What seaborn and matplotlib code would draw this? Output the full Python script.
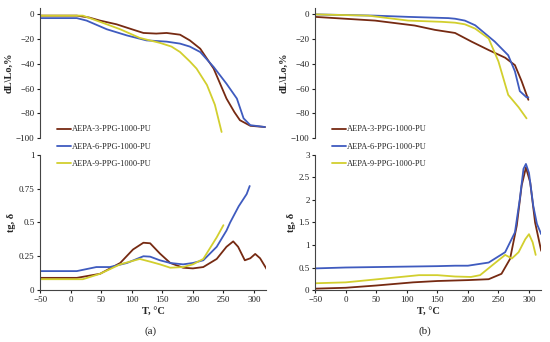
import pandas as pd
import matplotlib.pyplot as plt
import seaborn as sns

sns.set_style("white")
plt.rcParams['font.family'] = ['Liberation Serif', 'DejaVu Serif']

labels = ["AEPA-3-PPG-1000-PU", "AEPA-6-PPG-1000-PU", "AEPA-9-PPG-1000-PU"]
colors = ["#762a12", "#3f5bbf", "#d2cf2e"]

# (a) dilatometry dL/Lo, %
a_dl_T = [
    [-50, 10, 30, 48, 75, 100, 119, 140, 157, 179, 195, 212, 234, 255, 268, 277, 294, 318],
    [-50, 10, 26, 59, 92, 124, 157, 179, 195, 212, 234, 255, 272, 283, 294, 318],
    [-50, 20, 48, 81, 113, 146, 165, 179, 195, 206, 223, 236, 247],
]
a_dl_v = [
    [-1, -1, -2.5, -5, -8, -12, -15, -15.5, -15, -16.4, -21, -27.7, -43.8, -68, -79, -85.5, -90, -91],
    [-3, -3, -5, -12, -17, -21, -22, -23.6, -26, -30.4, -42.5, -56, -68, -84, -89.5, -91],
    [-1, -1, -6, -12, -19, -23, -26, -30.4, -38, -43.8, -57, -73, -95],
]

# (a) tg delta
a_tg_T = [
    [-50, 10, 48, 81, 102, 119, 130, 146, 163, 184, 200, 217, 239, 255, 266, 274, 285, 294, 302, 310, 321],
    [-50, 10, 42, 64, 92, 119, 130, 146, 163, 184, 200, 217, 239, 255, 261, 275, 288, 293],
    [-50, 20, 48, 81, 113, 130, 146, 163, 184, 200, 217, 239, 250],
]
a_tg_v = [
    [0.09, 0.09, 0.12, 0.20, 0.30, 0.35, 0.346, 0.27, 0.20, 0.165, 0.16, 0.17, 0.23, 0.32, 0.36, 0.32, 0.22, 0.235, 0.267, 0.235, 0.153],
    [0.14, 0.14, 0.17, 0.17, 0.20, 0.25, 0.247, 0.22, 0.20, 0.19, 0.20, 0.22, 0.32, 0.44, 0.50, 0.62, 0.71, 0.77],
    [0.08, 0.08, 0.12, 0.19, 0.23, 0.21, 0.19, 0.165, 0.17, 0.19, 0.23, 0.39, 0.48],
]

# (b) dilatometry dL/Lo, %
b_dl_T = [
    [-50, 48, 113, 146, 179, 206, 234, 261, 277, 288, 299],
    [-50, 48, 102, 168, 179, 195, 212, 244, 266, 277, 285, 296, 299],
    [-50, 37, 102, 157, 179, 195, 212, 234, 250, 266, 283, 296],
]
b_dl_v = [
    [-2, -5, -9, -12.5, -15, -22, -28.8, -35, -41, -54, -69],
    [0, -1, -2, -3, -3.5, -5, -8.8, -22, -33, -46, -62, -67, -67],
    [0, -1, -5, -6, -6.7, -8, -11.5, -19.5, -38, -65, -75, -84],
]

# (b) tg delta
b_tg_T = [
    [-50, 0, 50, 110, 150, 200, 234, 255, 269, 280, 288, 295, 302, 310, 320],
    [-50, 0, 100, 150, 179, 200, 234, 261, 277, 285, 291, 295, 300, 307, 313, 320],
    [-50, 0, 60, 120, 150, 179, 205, 220, 239, 261, 272, 283, 294, 300, 306, 311],
]
b_tg_v = [
    [0.03, 0.05, 0.10, 0.17, 0.20, 0.22, 0.24, 0.36, 0.69, 1.43, 2.32, 2.72, 2.39, 1.50, 0.87],
    [0.48, 0.50, 0.52, 0.53, 0.54, 0.54, 0.61, 0.84, 1.28, 2.02, 2.69, 2.80, 2.60, 1.87, 1.47, 1.24],
    [0.15, 0.17, 0.25, 0.33, 0.33, 0.30, 0.29, 0.33, 0.54, 0.78, 0.70, 0.84, 1.13, 1.24, 1.06, 0.78],
]

fs = 6.5
fig = plt.figure(figsize=(5.5, 3.42), dpi=100)

def draw(ax, Ts, vs):
    for T, v, c, lab in zip(Ts, vs, colors, labels):
        sns.lineplot(x=T, y=v, color=c, lw=1.3, sort=False, ax=ax, label=lab)
    ax.get_legend().remove()
    ax.set_xlim(-50, 320)
    ax.tick_params(labelsize=fs, length=2, pad=2, direction='out')
    for s in ['top', 'right']:
        ax.spines[s].set_visible(False)
    for s in ['left', 'bottom']:
        ax.spines[s].set_color('#444444')
        ax.spines[s].set_linewidth(0.8)
    ax.tick_params(left=True, bottom=True, colors='#222222')

panels = [
    (0.073, a_dl_T, a_dl_v, a_tg_T, a_tg_v, (0, 1), [0, 0.25, 0.5, 0.75, 1], ["0", "0.25", "0.5", "0.75", "1"], "(a)"),
    (0.573, b_dl_T, b_dl_v, b_tg_T, b_tg_v, (0, 3), [0, 0.5, 1, 1.5, 2, 2.5, 3], ["0", "0.5", "1", "1.5", "2", "2.5", "3"], "(b)"),
]

for x0, dT, dv, tT, tv, tlim, tticks, tlabels, tag in panels:
    top = fig.add_axes([x0, 0.596, 0.411, 0.380])
    draw(top, dT, dv)
    top.set_ylim(-100, 5)
    top.set_yticks([0, -20, -40, -60, -80, -100])
    top.spines['bottom'].set_visible(False)
    top.set_xticks([])
    top.set_xlabel("")
    top.set_ylabel("dL\\Lo,%", fontsize=7.5, fontweight='bold', labelpad=2)

    bot = fig.add_axes([x0, 0.152, 0.411, 0.395])
    draw(bot, tT, tv)
    bot.set_ylim(*tlim)
    bot.set_yticks(tticks)
    bot.set_yticklabels(tlabels)
    bot.set_xticks([-50, 0, 50, 100, 150, 200, 250, 300])
    bot.set_xlabel("T, °C", fontsize=7.5, fontweight='bold', labelpad=2)
    bot.set_ylabel("tg, δ", fontsize=7.5, fontweight='bold', labelpad=2)

    handles, labs = bot.get_legend_handles_labels()
    fig.legend(handles, labs, loc='upper left', bbox_to_anchor=(x0 + 0.025, 0.643),
               frameon=False, fontsize=6, handlelength=1.6, handletextpad=0.2,
               labelspacing=1.1, borderaxespad=0)
    fig.text(x0 + 0.2, 0.025, tag, fontsize=8, ha='center')

plt.savefig("out.png", dpi=100)
